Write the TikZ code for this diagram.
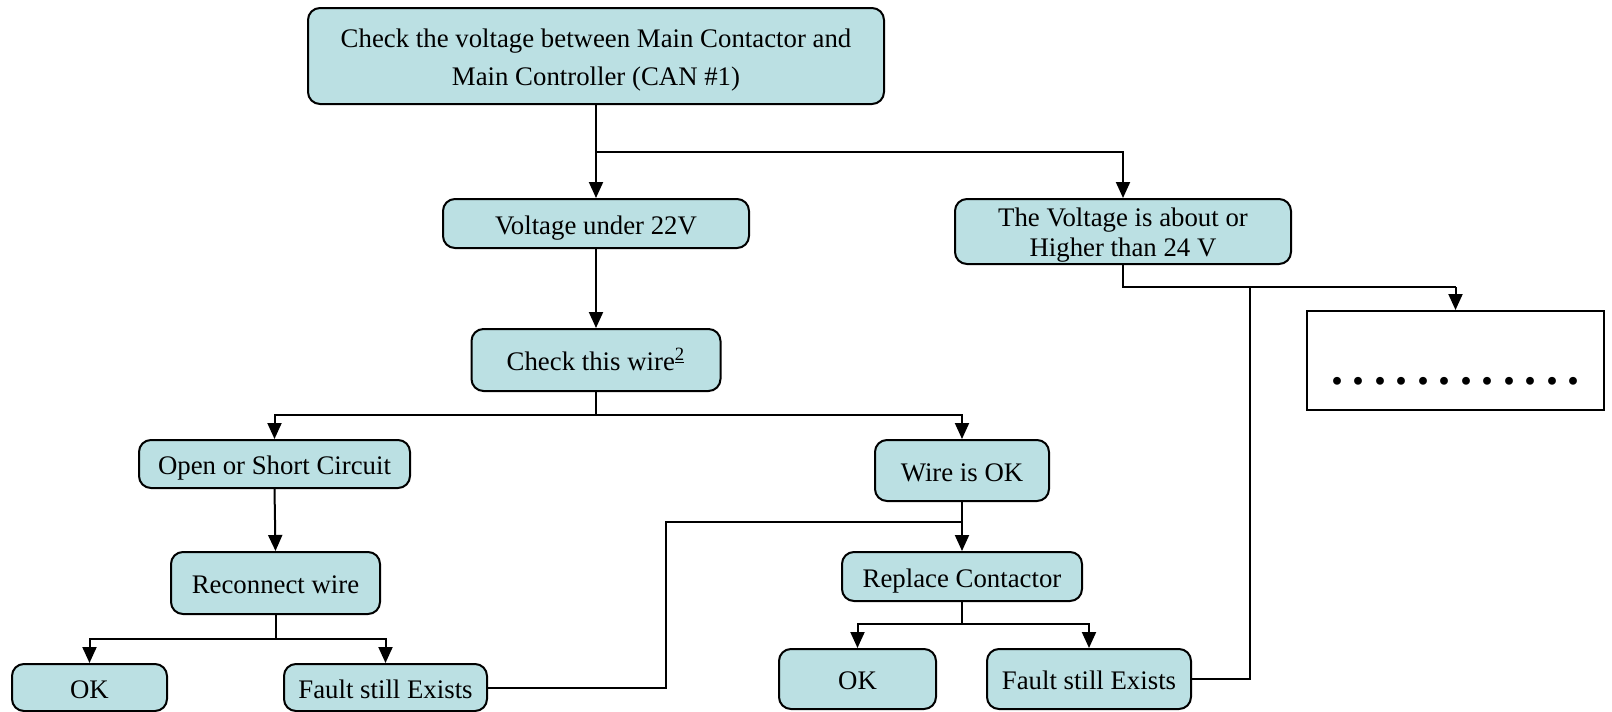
\documentclass[tikz,border=0pt]{standalone}
\usepackage{fontspec}
\setmainfont{Liberation Serif}
\usepackage{tikz}
\usetikzlibrary{arrows.meta}
\definecolor{boxfill}{RGB}{187,224,227}

\begin{document}
\begin{tikzpicture}[x=0.5pt, y=-0.5pt,
        box/.style={draw, line width=1pt, rounded corners=6pt, fill=boxfill, align=center,
          inner sep=0pt, font=\fontsize{13.4}{15.3}\selectfont},
        oneline/.style={box, text height=10.5pt, text depth=0pt},
        arr/.style={-{Triangle[length=8pt,width=7pt]}, line width=1pt},
        wire/.style={line width=1pt}]
        \useasboundingbox (0,0) rectangle (1612,712);
        % boxes
        \node[box, minimum width=288pt, minimum height=48pt, font=\fontsize{13.4}{19}\selectfont] (check) at (596,56)
          {\rule{0pt}{13.2pt}Check the voltage between Main Contactor and\\Main Controller (CAN \#1)};
        \node[oneline, minimum width=153pt, minimum height=24.5pt] (under) at (596,223.5) {Voltage under 22V};
        \node[box, minimum width=168pt, minimum height=32.5pt] (higher) at (1123,231.5)
          {\rule{0pt}{12.7pt}The Voltage is about or\\Higher than 24 V};
        \node[oneline, minimum width=124.5pt, minimum height=31pt] (checkwire) at (596,360)
          {Check this wire\textsuperscript{\underline{2}}};
        \node[oneline, minimum width=135.5pt, minimum height=24pt] (open) at (274.5,464) {Open or Short Circuit};
        \node[oneline, minimum width=87pt, minimum height=30.5pt] (wireok) at (962,470.5) {Wire is OK};
        \node[oneline, minimum width=104.5pt, minimum height=31pt] (reconnect) at (275.5,583) {Reconnect wire};
        \node[oneline, minimum width=120pt, minimum height=24.5pt] (replace) at (962,576.5) {Replace Contactor};
        \node[oneline, minimum width=77.5pt, minimum height=23.5pt] (okA) at (89.5,687.5) {OK};
        \node[oneline, minimum width=101.5pt, minimum height=23.5pt] (faultA) at (385.5,687.5) {Fault still Exists};
        \node[oneline, minimum width=78.5pt, minimum height=30pt] (okB) at (857.5,679) {OK};
        \node[oneline, minimum width=102pt, minimum height=30pt] (faultB) at (1089,679) {Fault still Exists};
        \node[draw, line width=1pt, minimum width=148.5pt, minimum height=49.5pt, inner sep=0pt] (more) at (1455.5,360.5) {};
        \node[anchor=base, inner sep=0pt, font=\fontsize{24}{24}\selectfont\bfseries] (dots) at (1455.5,384)
          {\foreach \i in {1,...,11}{.\hspace{4.75pt}}.};
        % connectors
        \coordinate (splitA) at (596,152);
        \draw[arr] (check.south) -- (under.north);
        \draw[arr] (splitA) -| (higher.north);
        \draw[arr] (under.south) -- (checkwire.north);
        \coordinate (splitB) at (596,415);
        \draw[wire] (checkwire.south) -- (splitB);
        \draw[arr] (splitB) -| (open.north);
        \draw[arr] (splitB) -| (wireok.north);
        \draw[arr] (open.south) -- (reconnect.north);
        \coordinate (splitC) at (275.5,639);
        \draw[wire] (reconnect.south) -- (splitC);
        \draw[arr] (splitC) -| (okA.north);
        \draw[arr] (splitC) -| (faultA.north);
        \draw[arr] (wireok.south) -- (replace.north);
        \coordinate (joinA) at (962,522);
        \draw[wire] (faultA.east) -- ++(178,0) |- (joinA);
        \coordinate (splitD) at (962,624);
        \draw[wire] (replace.south) -- (splitD);
        \draw[arr] (splitD) -| (okB.north);
        \draw[arr] (splitD) -| (faultB.north);
        \coordinate (joinB) at (1455.5,287);
        \draw[wire] (higher.south) |- (joinB);
        \draw[wire] (faultB.east) -- ++(58,0) |- (joinB);
        \draw[arr] (joinB) -- (more.north);
\end{tikzpicture}
\end{document}
